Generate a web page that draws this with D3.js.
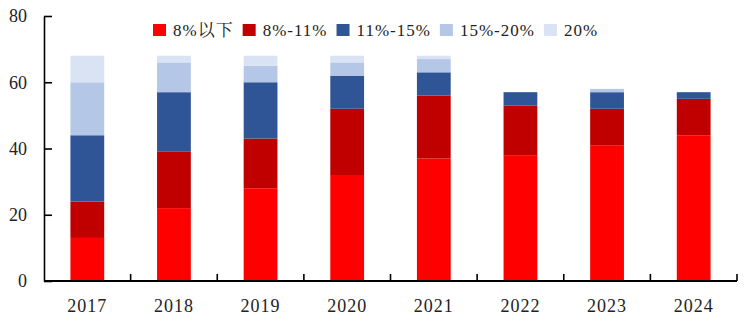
<!DOCTYPE html>
<html><head><meta charset="utf-8">
<script src="https://cdn.jsdelivr.net/npm/d3@7"></script>
<style>
html,body{margin:0;padding:0;background:#fff;}
svg text{font-family:"Liberation Serif","Times New Roman","Noto Serif CJK SC","Noto Sans CJK SC",serif;fill:#222;}
</style></head>
<body><svg id="c" width="748" height="329"></svg>
<script>
const years = ["2017","2018","2019","2020","2021","2022","2023","2024"];
const seriesNames = ["8%以下","8%-11%","11%-15%","15%-20%","20%"];
const below8 = [13,22,28,32,37,38,41,44];
const r8to11 = [11,17,15,20,19,15,11,11];
const r11to15 = [20,18,17,10,7,4,5,2];
const r15to20 = [16,9,5,4,4,0,1,0];
const above20 = [8,2,3,2,1,0,0,0];
const yTicks = [0,20,40,60,80];
const colors = ["#FF0000","#C00000","#2F5597","#B4C7E7","#DAE3F3"];

(function(){
const seriesVals = [below8,r8to11,r11to15,r15to20,above20];
const table = years.map((y,i)=>{const o={year:y}; seriesNames.forEach((s,k)=>o[s]=seriesVals[k][i]); return o;});
const stack = d3.stack().keys(seriesNames)(table);

const svg = d3.select("#c");
const mLeft=44, mRight=737, mTop=16, mBottom=281;
const x = d3.scaleBand().domain(years).range([mLeft,mRight]).paddingInner(0.61).paddingOuter(0.305);
const xb = d3.scaleBand().domain(years).range([mLeft,mRight]);
const y = d3.scaleLinear().domain([0,80]).range([mBottom,mTop]);

svg.append("g").selectAll("g").data(stack).join("g")
  .attr("fill",(d,i)=>colors[i])
  .selectAll("rect").data(d=>d).join("rect")
  .attr("x",d=>x(d.data.year)).attr("width",x.bandwidth())
  .attr("y",d=>y(d[1])).attr("height",d=>y(d[0])-y(d[1]));

// y axis
const ya = svg.append("g").attr("transform",`translate(${mLeft},0)`)
  .call(d3.axisLeft(y).tickValues(yTicks).tickSizeInner(-8).tickSizeOuter(0).tickPadding(17));
ya.select(".domain").attr("stroke","#000").attr("stroke-width",1.6);
ya.selectAll(".tick line").attr("stroke","#000").attr("stroke-width",1.6);
ya.selectAll("text").attr("font-size",18).attr("fill","#222");

// x axis
const xa = svg.append("g").attr("transform",`translate(0,${mBottom})`)
  .call(d3.axisBottom(x).tickSize(0).tickPadding(18));
xa.select(".domain").attr("stroke","#000").attr("stroke-width",1.8).attr("d",`M${mLeft},0H${mRight}`);
xa.selectAll("text").attr("font-size",18).style("letter-spacing","1px").attr("fill","#222");
const bounds = years.map(d=>xb(d)).concat([mRight]).slice(1);
xa.selectAll(".bt").data(bounds).join("line").attr("class","bt")
  .attr("x1",d=>d).attr("x2",d=>d).attr("y1",0).attr("y2",-7)
  .attr("stroke","#000").attr("stroke-width",1.6);

// legend
const lg = svg.append("g");
let lx = 153;
const ly = 30;
seriesNames.forEach((s,i)=>{
  lg.append("rect").attr("x",lx).attr("y",ly-6).attr("width",13).attr("height",12).attr("fill",colors[i]);
  const t = lg.append("text").attr("x",lx+20).attr("y",ly).attr("dy","0.35em")
    .attr("font-size",17).style("letter-spacing","1px").text(s);
  lx += 20 + t.node().getComputedTextLength() + 9;
});
})();
</script></body></html>
